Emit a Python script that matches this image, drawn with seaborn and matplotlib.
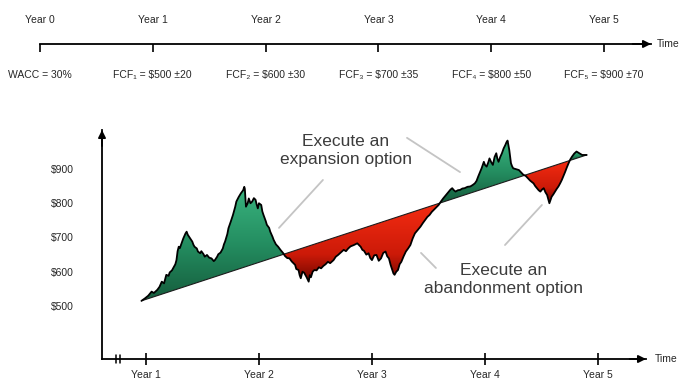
import numpy as np
import pandas as pd
import matplotlib
matplotlib.use("Agg")
import matplotlib.pyplot as plt
from matplotlib.colors import LinearSegmentedColormap
import seaborn as sns

# Cash-flow timeline
timeline_years = [0, 1, 2, 3, 4, 5]
timeline_top_labels = ["Year 0", "Year 1", "Year 2", "Year 3", "Year 4", "Year 5"]
timeline_bottom_labels = ["WACC = 30%", "FCF₁ = $500 ±20", "FCF₂ = $600 ±30",
                          "FCF₃ = $700 ±35", "FCF₄ = $800 ±50", "FCF₅ = $900 ±70"]

# Simulated project value path (year, $)
path_year = [0.96, 0.99, 1.02, 1.05, 1.07, 1.10, 1.12, 1.14, 1.16, 1.18,
             1.20, 1.21, 1.23, 1.24, 1.26, 1.27, 1.28, 1.29, 1.30, 1.32,
             1.33, 1.35, 1.36, 1.37, 1.39, 1.41, 1.42, 1.43, 1.45, 1.46,
             1.48, 1.49, 1.51, 1.52, 1.54, 1.56, 1.58, 1.60, 1.61, 1.63,
             1.64, 1.66, 1.68, 1.69, 1.70, 1.72, 1.73, 1.75, 1.77, 1.79,
             1.80, 1.82, 1.84, 1.86, 1.87, 1.875, 1.885, 1.90, 1.91, 1.925,
             1.94, 1.955, 1.97, 1.98, 1.99, 2.00, 2.02, 2.03, 2.04, 2.06,
             2.07, 2.09, 2.10, 2.12, 2.13, 2.15, 2.17, 2.19, 2.215, 2.23,
             2.25, 2.27, 2.29, 2.32, 2.33, 2.35, 2.36, 2.37, 2.385, 2.40,
             2.42, 2.44, 2.45, 2.46, 2.475, 2.49, 2.51, 2.53, 2.55, 2.57,
             2.59, 2.61, 2.63, 2.66, 2.68, 2.70, 2.72, 2.75, 2.77, 2.79,
             2.81, 2.84, 2.87, 2.885, 2.90, 2.915, 2.93, 2.95, 2.97, 2.985,
             3.00, 3.02, 3.04, 3.06, 3.08, 3.10, 3.12, 3.135, 3.15, 3.165,
             3.18, 3.19, 3.20, 3.215, 3.23, 3.245, 3.26, 3.28, 3.30, 3.32,
             3.34, 3.36, 3.38, 3.40, 3.43, 3.45, 3.47, 3.49, 3.51, 3.53,
             3.56, 3.59, 3.61, 3.63, 3.65, 3.68, 3.695, 3.71, 3.725, 3.74,
             3.76, 3.78, 3.80, 3.82, 3.845, 3.87, 3.89, 3.91, 3.925, 3.94,
             3.955, 3.97, 3.98, 3.99, 4.00, 4.015, 4.03, 4.04, 4.055, 4.07,
             4.085, 4.10, 4.11, 4.12, 4.135, 4.15, 4.165, 4.18, 4.19, 4.20,
             4.21, 4.215, 4.225, 4.23, 4.24, 4.25, 4.27, 4.30, 4.32, 4.34,
             4.36, 4.38, 4.40, 4.43, 4.445, 4.46, 4.475, 4.49, 4.505, 4.52,
             4.535, 4.55, 4.56, 4.57, 4.58, 4.59, 4.605, 4.62, 4.635, 4.65,
             4.665, 4.68, 4.695, 4.71, 4.725, 4.74, 4.755, 4.77, 4.79, 4.81,
             4.835, 4.86, 4.90]
path_value = [515, 522, 530, 542, 538, 547, 556, 571, 566, 591,
              588, 598, 604, 610, 622, 634, 660, 673, 669, 688,
              697, 712, 717, 708, 698, 688, 679, 673, 668, 659,
              654, 660, 651, 644, 649, 641, 639, 631, 634, 644,
              651, 656, 668, 680, 688, 710, 727, 746, 766, 790,
              805, 818, 829, 838, 848, 842, 790, 800, 814, 800,
              805, 815, 810, 796, 785, 800, 795, 776, 766, 748,
              737, 728, 717, 702, 693, 680, 673, 664, 654, 646,
              640, 639, 630, 620, 608, 605, 590, 581, 600, 597,
              585, 571, 590, 584, 600, 605, 604, 613, 610, 617,
              622, 629, 625, 634, 644, 649, 655, 664, 660, 668,
              674, 678, 683, 678, 673, 664, 661, 650, 654, 640,
              634, 648, 649, 632, 639, 655, 659, 645, 639, 620,
              605, 595, 591, 600, 605, 622, 629, 645, 659, 668,
              678, 697, 712, 720, 732, 742, 751, 760, 766, 775,
              785, 795, 805, 814, 822, 834, 840, 844, 838, 834,
              838, 839, 843, 844, 848, 849, 853, 858, 865, 878,
              890, 902, 912, 921, 912, 907, 920, 931, 920, 912,
              935, 946, 930, 921, 935, 946, 960, 970, 978, 983,
              965, 956, 930, 917, 908, 902, 900, 897, 890, 883,
              880, 873, 866, 858, 850, 844, 838, 834, 840, 844,
              832, 824, 812, 800, 810, 819, 826, 834, 842, 849,
              858, 868, 880, 892, 905, 917, 928, 936, 945, 951,
              946, 941, 941]

# Expected-value trend line
trend_year = [0.96, 4.90]
trend_value = [515, 941]

value_ticks = [500, 600, 700, 800, 900]
value_tick_labels = ["$500", "$600", "$700", "$800", "$900"]
year_ticks = [1, 2, 3, 4, 5]
year_tick_labels = ["Year 1", "Year 2", "Year 3", "Year 4", "Year 5"]

sns.set_theme(style="white")
plt.rcParams["font.family"] = ["Liberation Sans", "DejaVu Sans"]

TEXT = "#262626"
NOTE = "#3c3c3c"
LEADER = "#c4c4c4"
W, H = 681, 383
fig = plt.figure(figsize=(W / 100, H / 100), dpi=100)


def px_axes(left, top, right, bottom):
    return fig.add_axes([left / W, 1 - bottom / H, (right - left) / W, (bottom - top) / H])


# ---------------- main value chart ----------------
ax = px_axes(102, 130, 646, 359)
df = pd.DataFrame({"year": path_year, "value": path_value})
df["trend"] = np.interp(df["year"], trend_year, trend_value)

x = df["year"].to_numpy()
v = df["value"].to_numpy()
t = df["trend"].to_numpy()
up = ax.fill_between(x, v, t, where=v >= t, interpolate=True, lw=0)
down = ax.fill_between(x, v, t, where=v <= t, interpolate=True, lw=0)


def shade(coll, stops):
    cmap = LinearSegmentedColormap.from_list("shade", stops)
    grad = np.linspace(0, 1, 256).reshape(-1, 1)
    for p in coll.get_paths():
        vv = p.vertices
        x0, x1 = vv[:, 0].min(), vv[:, 0].max()
        y0, y1 = vv[:, 1].min(), vv[:, 1].max()
        if x1 - x0 < 1e-6 or y1 - y0 < 1e-6:
            continue
        im = ax.imshow(grad, cmap=cmap, origin="lower", aspect="auto",
                       extent=(x0, x1, y0, y1), zorder=2, interpolation="bilinear")
        im.set_clip_path(p, transform=ax.transData)
    coll.set_visible(False)


shade(up, [(0, "#155c3c"), (0.5, "#248e61"), (1, "#3ab47f")])
shade(down, [(0, "#6e0600"), (0.35, "#cc1a08"), (1, "#f42c12")])

sns.lineplot(x=trend_year, y=trend_value, ax=ax, color="#1c1c1c", lw=0.8, zorder=3)
sns.lineplot(data=df, x="year", y="value", ax=ax, sort=False, color="black",
             lw=1.3, zorder=4)

ax.set_xlim(0.611, 5.425)
ax.set_ylim(345.2, 1013.9)
ax.set_xlabel("")
ax.set_ylabel("")
for side in ["top", "right"]:
    ax.spines[side].set_visible(False)
for side in ["left", "bottom"]:
    ax.spines[side].set_color("black")
    ax.spines[side].set_linewidth(1.3)

ax.set_xticks(year_ticks, year_tick_labels)
ax.set_yticks(value_ticks, value_tick_labels)
ax.tick_params(axis="x", bottom=True, direction="inout", length=8, width=1.2,
               color="black", labelsize=7.5, labelcolor=TEXT, pad=4)
ax.tick_params(axis="y", left=False, length=0, pad=20, labelsize=7.5, labelcolor=TEXT)

arrow = dict(arrowstyle="-|>", color="black", lw=1.3, mutation_scale=11,
             shrinkA=0, shrinkB=0)
ax.annotate("", xy=(1, 0), xytext=(0.97, 0), xycoords="axes fraction", arrowprops=arrow)
ax.annotate("", xy=(0, 1), xytext=(0, 0.93), xycoords="axes fraction", arrowprops=arrow)
ax.annotate("Time", xy=(1, 0), xycoords="axes fraction", xytext=(6, 0),
            textcoords="offset points", ha="left", va="center", fontsize=7.5, color=TEXT)

# axis break marks
for bx in [0.735, 0.766]:
    ax.plot([bx, bx], [-0.018, 0.018], transform=ax.get_xaxis_transform(),
            color="black", lw=1.1, clip_on=False)

# option annotations
ax.text(2.77, 953, "Execute an\nexpansion option", ha="center", va="center",
        fontsize=12.5, color=NOTE, linespacing=1.25, zorder=5)
ax.text(4.168, 576, "Execute an\nabandonment option", ha="center", va="center",
        fontsize=12.5, color=NOTE, linespacing=1.25, zorder=5)
leaders = [((2.566, 868), (2.177, 728)),
           ((3.310, 991), (3.779, 891)),
           ((3.434, 655), (3.566, 611)),
           ((4.504, 795), (4.177, 678))]
for (xa, ya), (xb, yb) in leaders:
    ax.plot([xa, xb], [ya, yb], color=LEADER, lw=1.3, zorder=1)

# ---------------- cash-flow timeline ----------------
top = px_axes(40, 10, 651, 85)
top.set_xlim(0, 5.417)
top.set_ylim(0, 1)
for side in ["top", "right", "left"]:
    top.spines[side].set_visible(False)
top.spines["bottom"].set_position(("axes", 0.547))
top.spines["bottom"].set_color("black")
top.spines["bottom"].set_linewidth(1.3)
top.set_yticks([])
top.set_xticks(timeline_years, timeline_bottom_labels)
top.tick_params(axis="x", bottom=True, direction="out", length=6, width=1.2,
                color="black", labelsize=7.5, labelcolor=TEXT, pad=13)
for yr, lab in zip(timeline_years, timeline_top_labels):
    top.text(yr, 0.867, lab, transform=top.get_xaxis_transform(), ha="center",
             va="center", fontsize=7.5, color=TEXT)
top.annotate("", xy=(1, 0.547), xytext=(0.97, 0.547), xycoords="axes fraction",
             arrowprops=arrow)
top.annotate("Time", xy=(1, 0.547), xycoords="axes fraction", xytext=(4, 0),
             textcoords="offset points", ha="left", va="center", fontsize=7.5, color=TEXT)

fig.savefig("out.png", dpi=100)
